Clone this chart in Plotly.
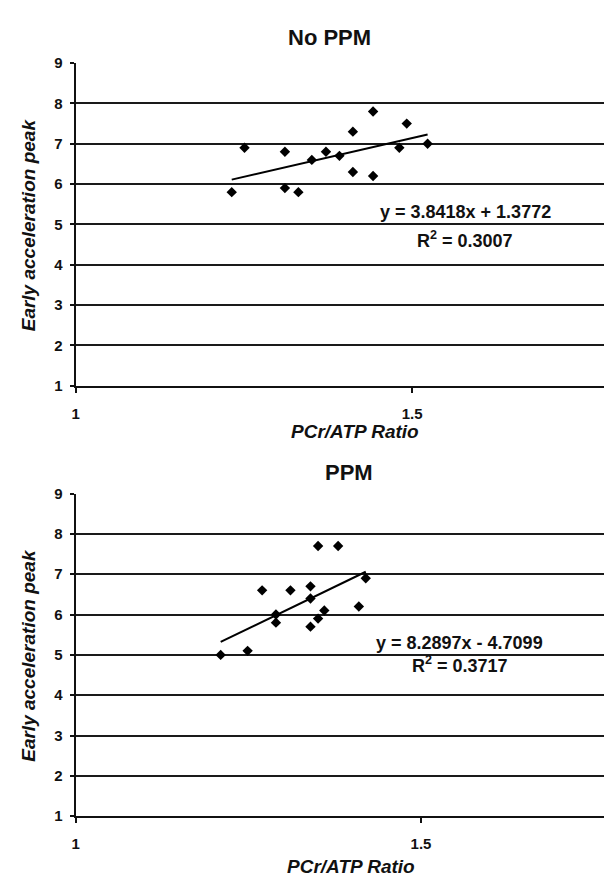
import plotly.graph_objects as go

# ---- data ----
x_noppm = [1.232, 1.251, 1.311, 1.311, 1.331, 1.351, 1.372, 1.392, 1.412, 1.412, 1.442, 1.442, 1.481, 1.492, 1.523]
y_noppm = [5.8, 6.9, 6.8, 5.9, 5.8, 6.6, 6.8, 6.7, 7.3, 6.3, 7.8, 6.2, 6.9, 7.5, 7.0]
slope_noppm, icpt_noppm = 3.8418, 1.3772
eq_noppm = "y = 3.8418x + 1.3772"
r2_noppm = "R<sup>2</sup> = 0.3007"

x_ppm = [1.210, 1.249, 1.270, 1.290, 1.290, 1.311, 1.340, 1.340, 1.340, 1.351, 1.351, 1.360, 1.380, 1.410, 1.420]
y_ppm = [5.0, 5.1, 6.6, 6.0, 5.8, 6.6, 6.7, 6.4, 5.7, 7.7, 5.9, 6.1, 7.7, 6.2, 6.9]
slope_ppm, icpt_ppm = 8.2897, -4.7099
eq_ppm = "y = 8.2897x - 4.7099"
r2_ppm = "R<sup>2</sup> = 0.3717"

titles = ["No PPM", "PPM"]
x_title = "PCr/ATP Ratio"
y_title = "Early acceleration peak"
y_ticks = [1, 2, 3, 4, 5, 6, 7, 8, 9]
x_ticks = [1, 1.5]
x_ticklabels = ["1", "1.5"]

W, H = 612, 877
FONT = "Liberation Sans, Arial, sans-serif"

fig = go.Figure()

panels = [
    dict(x=x_noppm, y=y_noppm, m=slope_noppm, b=icpt_noppm, eq=eq_noppm, r2=r2_noppm,
         xs="x", ys="y", xa="xaxis", ya="yaxis",
         xdom=[64 / W, 606 / W], ydom=[1 - 376 / H, 1 - 47 / H], xr=[1, 1.8],
         eqpos=(1.579, 5.30), r2pos=(1.579, 4.62),
         title_xy=(320, 21), xt_xy=(345, 423)),
    dict(x=x_ppm, y=y_ppm, m=slope_ppm, b=icpt_ppm, eq=eq_ppm, r2=r2_ppm,
         xs="x2", ys="y2", xa="xaxis2", ya="yaxis2",
         xdom=[64 / W, 1.0], ydom=[1 - 815 / H, 1 - 486 / H], xr=[1, 1.788],
         eqpos=(1.556, 5.30), r2pos=(1.556, 4.75),
         title_xy=(339, 465), xt_xy=(341, 866)),
]

annotations = []
for i, p in enumerate(panels):
    fig.add_trace(go.Scatter(x=p["x"], y=p["y"], mode="markers",
                             marker=dict(symbol="diamond", size=8, color="black"),
                             xaxis=p["xs"], yaxis=p["ys"], showlegend=False))
    xmin, xmax = min(p["x"]), max(p["x"])
    fig.add_trace(go.Scatter(x=[xmin, xmax], y=[p["m"] * xmin + p["b"], p["m"] * xmax + p["b"]],
                             mode="lines", line=dict(color="black", width=2),
                             xaxis=p["xs"], yaxis=p["ys"], showlegend=False))
    tf = dict(family=FONT, size=15, color="#111", weight="bold")
    fig.update_layout(**{
        p["xa"]: dict(domain=p["xdom"], range=p["xr"], tickvals=x_ticks, ticktext=x_ticklabels,
                      showgrid=False, zeroline=False, showline=True, linecolor="#111", linewidth=2,
                      ticks="outside", ticklen=5, tickwidth=2, tickcolor="#111",
                      ticklabelstandoff=8, tickfont=tf, anchor=p["ys"]),
        p["ya"]: dict(domain=p["ydom"], range=[1, 9], tickvals=y_ticks,
                      showgrid=True, gridcolor="#1a1a1a", gridwidth=2, zeroline=False,
                      showline=True, linecolor="#111", linewidth=2,
                      ticks="outside", ticklen=4, tickwidth=2, tickcolor="#111",
                      ticklabelstandoff=4, tickfont=tf, anchor=p["xs"]),
    })
    xref = p["xs"]
    yref = p["ys"]
    annotations += [
        dict(text=f"<b>{p['eq']}</b>", x=p["eqpos"][0], y=p["eqpos"][1], xref=xref, yref=yref,
             showarrow=False, font=dict(family=FONT, size=18, color="#111")),
        dict(text=f"<b>{p['r2']}</b>", x=p["r2pos"][0], y=p["r2pos"][1], xref=xref, yref=yref,
             showarrow=False, font=dict(family=FONT, size=18, color="#111")),
        dict(text=f"<b>{titles[i]}</b>", x=p["title_xy"][0] / W, y=1 - p["title_xy"][1] / H,
             xref="paper", yref="paper", showarrow=False, xanchor="center", yanchor="middle",
             font=dict(family=FONT, size=22, color="#111")),
        dict(text=f"<b><i>{x_title}</i></b>", x=p["xt_xy"][0] / W, y=1 - p["xt_xy"][1] / H,
             xref="paper", yref="paper", showarrow=False, xanchor="center", yanchor="middle",
             font=dict(family=FONT, size=19, color="#111")),
        dict(text=f"<b><i>{y_title}</i></b>", x=17 / W,
             y=(p["ydom"][0] + p["ydom"][1]) / 2, textangle=-90,
             xref="paper", yref="paper", showarrow=False, xanchor="center", yanchor="middle",
             font=dict(family=FONT, size=19, color="#111")),
    ]

fig.update_layout(width=W, height=H, margin=dict(l=0, r=0, t=0, b=0),
                  paper_bgcolor="white", plot_bgcolor="white",
                  annotations=annotations, showlegend=False)

fig.write_html("out.html")
